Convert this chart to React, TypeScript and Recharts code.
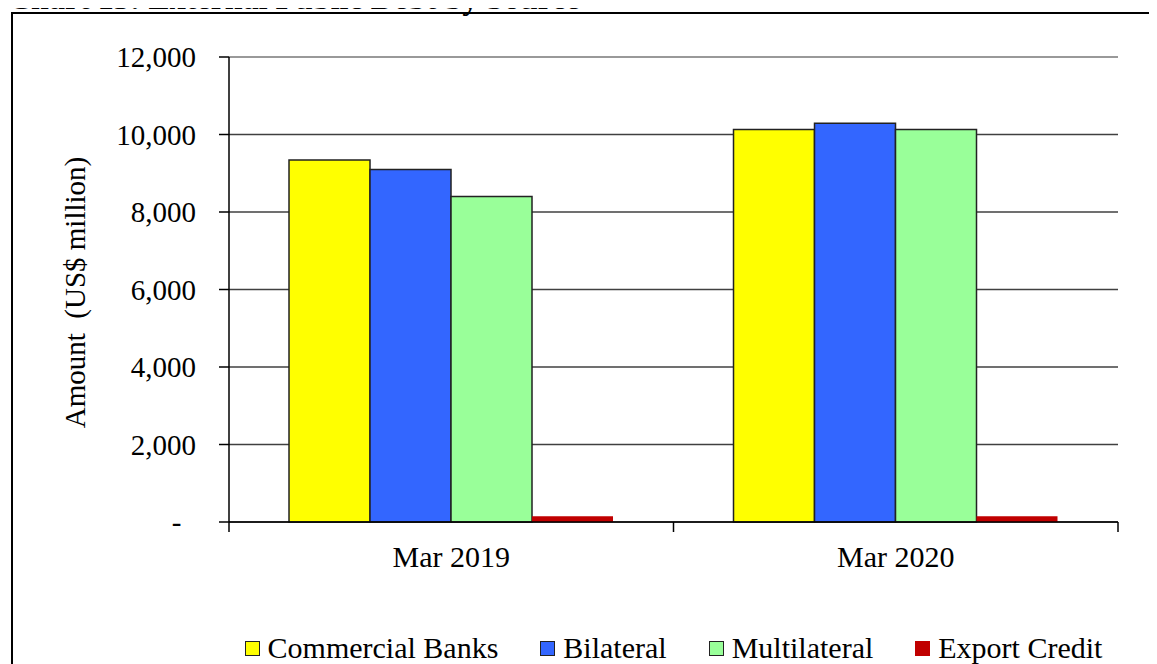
import React from "react";
import {
  BarChart,
  Bar,
  XAxis,
  YAxis,
  CartesianGrid,
  Legend,
  ReferenceLine,
} from "recharts";

const categories: string[] = ["Mar 2019", "Mar 2020"];
const commercialBanks: number[] = [9340, 10130];
const bilateral: number[] = [9100, 10290];
const multilateral: number[] = [8400, 10130];
const exportCredit: number[] = [150, 150];
const yTicks: number[] = [0, 2000, 4000, 6000, 8000, 10000, 12000];

const series = [
  { key: "commercial", name: "Commercial Banks", color: "#FFFF00", border: "#222" },
  { key: "bilateral", name: "Bilateral", color: "#3366FF", border: "#222" },
  { key: "multilateral", name: "Multilateral", color: "#99FF99", border: "#222" },
  { key: "export", name: "Export Credit", color: "#C00000", border: "#C00000" },
];

const data = categories.map((cat, i) => ({
  cat,
  commercial: commercialBanks[i],
  bilateral: bilateral[i],
  multilateral: multilateral[i],
  export: exportCredit[i],
}));

const FONT = "'Liberation Serif', 'Times New Roman', serif";

const formatY = (v: number) =>
  v === 0 ? "-\u00a0\u00a0" : v.toLocaleString("en-US");

const CategoryTick = (props: any) => {
  const { x, y, payload, index } = props;
  const half = payload && payload.offset ? payload.offset : 222.25;
  const axisY = y - 24;
  return (
    <g>
      {index === 0 && (
        <line x1={x - half} x2={x - half} y1={axisY} y2={axisY + 10} stroke="#000" strokeWidth={1.5} />
      )}
      <line x1={x + half} x2={x + half} y1={axisY} y2={axisY + 10} stroke="#000" strokeWidth={1.5} />
      <text x={x} y={y} dy={21} textAnchor="middle" fill="#000" fontSize={30} fontFamily={FONT}>
        {payload.value}
      </text>
    </g>
  );
};

const YLabel = (props: any) => {
  const vb = props.viewBox || { y: 57, height: 465 };
  const cy = vb.y + vb.height / 2 + 3;
  return (
    <text
      x={75}
      y={cy}
      transform={`rotate(-90 75 ${cy})`}
      textAnchor="middle"
      dominantBaseline="central"
      fill="#000"
      fontSize={29}
      fontFamily={FONT}
    >
      {"Amount\u00a0\u00a0(US$ million)"}
    </text>
  );
};

const LegendContent = () => (
  <div
    style={{
      display: "flex",
      justifyContent: "center",
      alignItems: "center",
      height: 40,
      lineHeight: "40px",
      fontFamily: FONT,
      fontSize: 30,
      color: "#000",
      gap: 42,
      whiteSpace: "nowrap",
    }}
  >
    {series.map((s) => (
      <div key={s.key} style={{ display: "flex", alignItems: "center" }}>
        <span
          style={{
            display: "inline-block",
            width: 13,
            height: 13,
            background: s.color,
            border: `1.5px solid ${s.border}`,
            marginRight: 8,
          }}
        />
        <span>{s.name}</span>
      </div>
    ))}
  </div>
);

export default function App() {
  return (
    <div
      style={{
        position: "relative",
        width: 1157,
        height: 664,
        margin: "-8px -8px 0 -8px",
        overflow: "hidden",
        background: "#fff",
      }}
    >
      <div
        style={{
          position: "absolute",
          left: 11,
          top: 12,
          width: 1200,
          height: 700,
          border: "2px solid #000",
        }}
      />
      <div style={{ position: "absolute", left: 0, top: 0 }}>
        <BarChart
          width={1157}
          height={664}
          data={data}
          margin={{ top: 57, right: 39, left: 0, bottom: 42 }}
          barCategoryGap="13.5%"
          barGap={0}
        >
          <CartesianGrid vertical={false} stroke="#404040" strokeWidth={1.5} />
          <XAxis
            dataKey="cat"
            height={60}
            tickSize={0}
            tickMargin={24}
            tickLine={false}
            axisLine={{ stroke: "#000", strokeWidth: 1.5 }}
            tick={<CategoryTick />}
            interval={0}
          />
          <YAxis
            width={229}
            domain={[0, 12000]}
            ticks={yTicks}
            interval={0}
            tickFormatter={formatY}
            tickSize={10}
            tickMargin={23}
            axisLine={{ stroke: "#000", strokeWidth: 1.5 }}
            tickLine={{ stroke: "#000", strokeWidth: 1.5 }}
            tick={{ fill: "#000", fontSize: 29, fontFamily: FONT }}
            label={<YLabel />}
          />
          <YAxis
            yAxisId="right"
            orientation="right"
            width={0}
            domain={[0, 12000]}
            tick={false}
            tickLine={false}
            axisLine={{ stroke: "#999", strokeWidth: 2 }}
          />
          <ReferenceLine y={12000} stroke="#999" strokeWidth={2} />
          {series.map((s) => (
            <Bar
              key={s.key}
              dataKey={s.key}
              name={s.name}
              fill={s.color}
              stroke={s.key === "export" ? "none" : "#222"}
              strokeWidth={1.5}
              isAnimationActive={false}
            />
          ))}
          <Legend
            content={<LegendContent />}
            wrapperStyle={{ left: 229, top: 628, width: 889 }}
          />
        </BarChart>
      </div>
      <svg
        width={1157}
        height={24}
        style={{ position: "absolute", left: 0, top: 0, zIndex: 10 }}
      >
        <text x={8} y={9} fontFamily={FONT} fontWeight="bold" fontSize={32} fill="#000">
          Chart 13: External Public Debt by Source
        </text>
      </svg>
    </div>
  );
}
